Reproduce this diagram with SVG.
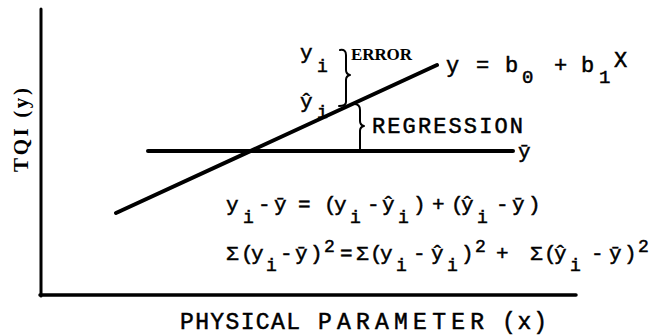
<svg xmlns="http://www.w3.org/2000/svg" width="653" height="335" viewBox="0 0 653 335">
<style>
.m{font-family:"Liberation Mono","DejaVu Sans Mono",monospace;fill:#000;stroke:#000;stroke-width:0.5;}
.s{font-family:"Liberation Serif","DejaVu Serif",serif;fill:#000;}
.ln{stroke:#000;fill:none;stroke-linecap:round;}
.br{stroke:#000;fill:none;stroke-width:2;stroke-linecap:round;stroke-linejoin:round;}
.eq{font-size:21px;}
.sub{font-size:18px;}
</style>
<rect width="653" height="335" fill="#fff"/>
<g id="axes">
<line class="ln" x1="41" y1="9" x2="41" y2="296" stroke-width="3"/>
<line class="ln" x1="40" y1="295" x2="576" y2="295" stroke-width="3.5"/>
</g>
<g id="axis-labels">
<text class="s" font-size="21" font-weight="bold" text-anchor="middle" transform="translate(28,130) rotate(-90)" textLength="84">TQI (y)</text>
<text class="m" font-size="23" x="180" y="329" textLength="120">PHYSICAL</text>
<text class="m" font-size="23" x="318" y="329" textLength="166">PARAMETER</text>
<text class="m" font-size="23" x="502" y="329" textLength="45">(x)</text>
</g>
<g id="lines">
<line class="ln" x1="116" y1="213" x2="437" y2="65" stroke-width="4"/>
<line class="ln" x1="148" y1="151" x2="513" y2="151" stroke-width="4"/>
</g>
<g id="braces">
<path class="br" d="M340,50 Q346,49 346,55 L346,70 Q346,74 350,75 Q346,76 346,80 L346,102 Q346,106 339,106"/>
<path class="br" d="M354,104 Q360,104 360,110 L360,121 Q360,125 364,126 Q360,127 360,131 L360,151"/>
</g>
<g id="labels">
<text class="m eq" x="300" y="59">y</text>
<text class="m sub" x="317" y="72">i</text>
<text class="m eq" x="300" y="108">ŷ</text>
<text class="m sub" x="317" y="118">i</text>
<text class="s" font-size="17" font-weight="bold" x="351" y="60" textLength="61">ERROR</text>
<text class="m" font-size="22" x="372" y="133" textLength="151">REGRESSION</text>
<text class="m eq" x="518" y="158">ȳ</text>
<text class="m" font-size="22"><tspan x="446" y="72">y</tspan><tspan x="476" y="72">=</tspan><tspan x="505" y="72">b</tspan><tspan x="522" y="83" font-size="19">0</tspan><tspan x="554" y="72">+</tspan><tspan x="581" y="72">b</tspan><tspan x="599" y="83" font-size="19">1</tspan><tspan x="614" y="67">X</tspan></text>
</g>
<g id="equation-1" class="m eq">
<text><tspan x="226" y="211">y</tspan><tspan x="243" y="223" class="sub">i</tspan><tspan x="258" y="211">-</tspan><tspan x="274" y="211">ȳ</tspan><tspan x="298" y="211">=</tspan><tspan x="324" y="211">(</tspan><tspan x="334" y="211">y</tspan><tspan x="350" y="223" class="sub">i</tspan><tspan x="367" y="211">-</tspan><tspan x="382" y="211">ŷ</tspan><tspan x="398" y="223" class="sub">i</tspan><tspan x="413" y="211">)</tspan><tspan x="432" y="211">+</tspan><tspan x="451" y="211">(</tspan><tspan x="461" y="211">ŷ</tspan><tspan x="477" y="223" class="sub">i</tspan><tspan x="496" y="211">-</tspan><tspan x="512" y="211">ȳ</tspan><tspan x="528" y="211">)</tspan></text>
</g>
<g id="equation-2" class="m eq">
<text><tspan x="226" y="260">Σ</tspan><tspan x="241" y="260">(</tspan><tspan x="251" y="260">y</tspan><tspan x="266" y="271" class="sub">i</tspan><tspan x="280" y="260">-</tspan><tspan x="295" y="260">ȳ</tspan><tspan x="310" y="260">)</tspan><tspan x="324" y="252" class="sub">2</tspan><tspan x="340" y="260">=</tspan><tspan x="356" y="260">Σ</tspan><tspan x="370" y="260">(</tspan><tspan x="380" y="260">y</tspan><tspan x="396" y="271" class="sub">i</tspan><tspan x="413" y="260">-</tspan><tspan x="431" y="260">ŷ</tspan><tspan x="447" y="271" class="sub">i</tspan><tspan x="461" y="260">)</tspan><tspan x="475" y="252" class="sub">2</tspan><tspan x="496" y="260">+</tspan><tspan x="530" y="260">Σ</tspan><tspan x="544" y="260">(</tspan><tspan x="554" y="260">ŷ</tspan><tspan x="570" y="271" class="sub">i</tspan><tspan x="591" y="260">-</tspan><tspan x="609" y="260">ȳ</tspan><tspan x="624" y="260">)</tspan><tspan x="638" y="252" class="sub">2</tspan></text>
</g>
</svg>
